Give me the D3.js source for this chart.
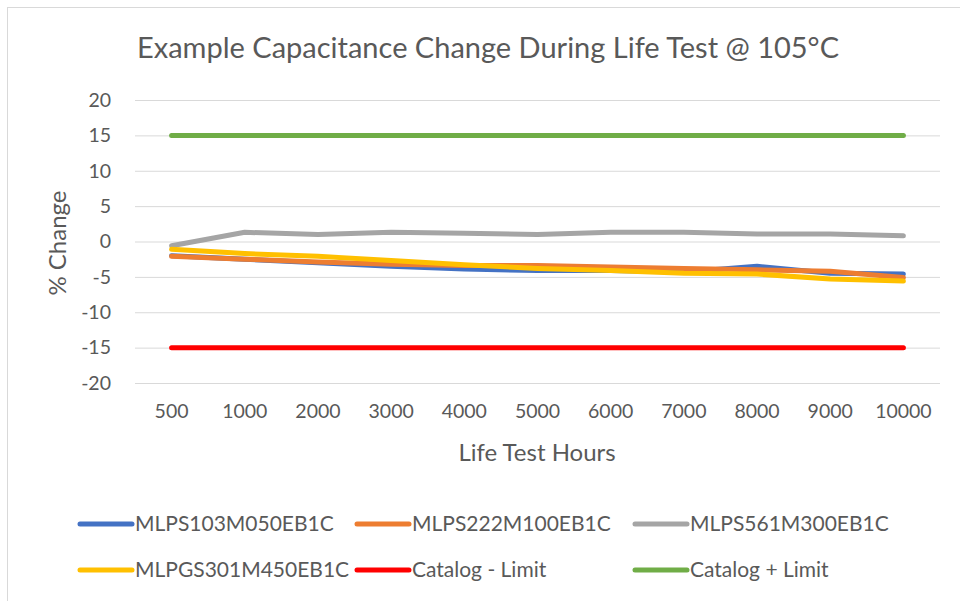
<!DOCTYPE html>
<html><head><meta charset="utf-8">
<script src="https://cdn.jsdelivr.net/npm/d3@7"></script>
<style>body{margin:0;background:#fff}svg{display:block}text{font-family:Lato,"Open Sans",sans-serif;fill:#595959}</style>
</head><body>
<script>
const categories = ["500","1000","2000","3000","4000","5000","6000","7000","8000","9000","10000"];
const seriesNames = ["MLPS103M050EB1C","MLPS222M100EB1C","MLPS561M300EB1C","MLPGS301M450EB1C","Catalog - Limit","Catalog + Limit"];
const seriesColors = ["#4472c4","#ed7d31","#a5a5a5","#ffc000","#ff0000","#70ad47"];
const blueVals   = [-2.0,-2.5,-3.0,-3.5,-3.9,-4.1,-4.1,-4.3,-3.5,-4.5,-4.6];
const orangeVals = [-2.1,-2.5,-2.9,-3.2,-3.4,-3.4,-3.6,-3.8,-4.0,-4.2,-5.1];
const grayVals   = [-0.6,1.3,1.0,1.3,1.15,1.0,1.3,1.3,1.05,1.05,0.8];
const yellowVals = [-1.1,-1.7,-2.1,-2.7,-3.3,-3.8,-4.1,-4.5,-4.6,-5.3,-5.6];
const minusLimit = [-15,-15,-15,-15,-15,-15,-15,-15,-15,-15,-15];
const plusLimit  = [15,15,15,15,15,15,15,15,15,15,15];
const yTicks = [20,15,10,5,0,-5,-10,-15,-20];
const allSeries = [blueVals, orangeVals, grayVals, yellowVals, minusLimit, plusLimit];

const W=960,H=601;
const svg=d3.select("body").append("svg").attr("width",W).attr("height",H);
svg.append("rect").attr("x",7.5).attr("y",7.5).attr("width",W+10).attr("height",H+10).attr("fill","#fff").attr("stroke","#d9d9d9");

const x=d3.scaleBand().domain(categories).range([135,940]);
const y=d3.scaleLinear().domain([-20,20]).range([383,100]);

const yAxis=d3.axisLeft(y).tickValues(yTicks).tickSize(-(940-135)).tickPadding(24).tickFormat(d=>String(d));
const gy=svg.append("g").attr("transform","translate(135,0)").call(yAxis);
gy.select(".domain").remove();
gy.selectAll("line").attr("stroke","#d9d9d9");
gy.selectAll("text").style("font-size","19.5px").attr("fill","#595959");

const xAxis=d3.axisBottom(x).tickSize(0).tickPadding(21);
const gx=svg.append("g").attr("transform","translate(0,383)").call(xAxis);
gx.select(".domain").remove();
gx.selectAll("text").style("font-size","19.5px").attr("fill","#595959");

svg.append("text").attr("x",488).attr("y",58).attr("text-anchor","middle").style("font-size","29px").text("Example Capacitance Change During Life Test @ 105°C");
svg.append("text").attr("x",537).attr("y",461).attr("text-anchor","middle").style("font-size","24px").text("Life Test Hours");
svg.append("text").attr("transform","translate(66,243) rotate(-90)").attr("text-anchor","middle").style("font-size","24px").text("% Change");

const line=d3.line().x((d,i)=>x(categories[i])+x.bandwidth()/2).y(d=>y(d));
allSeries.forEach((s,i)=>{
  svg.append("path").datum(s).attr("d",line).attr("fill","none").attr("stroke",seriesColors[i])
    .attr("stroke-width",5).attr("stroke-linejoin","round").attr("stroke-linecap","round");
});

const legCols=[80,357,635], legRows=[524,570];
seriesNames.forEach((n,i)=>{
  const lx=legCols[i%3], ly=legRows[Math.floor(i/3)];
  svg.append("line").attr("x1",lx).attr("x2",lx+52).attr("y1",ly).attr("y2",ly).attr("stroke",seriesColors[i]).attr("stroke-width",5).attr("stroke-linecap","round");
  svg.append("text").attr("x",lx+55).attr("y",ly+7).style("font-size","21px").text(n);
});
</script>
</body></html>
